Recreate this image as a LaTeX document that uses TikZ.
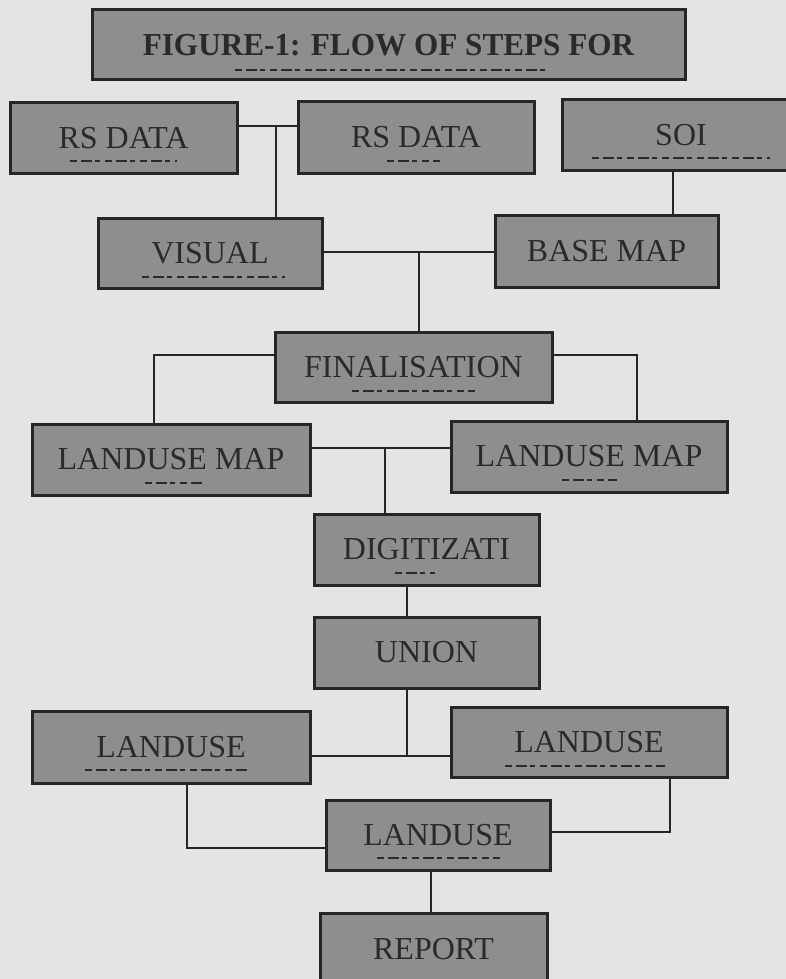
\documentclass[tikz,border=0pt]{standalone}
\usepackage{fontspec}
\setmainfont{Liberation Serif}
\begin{document}
\begin{tikzpicture}[x=1pt,y=-1pt,
  stepbox/.style={draw=boxline,fill=boxfill,line width=3pt,inner sep=0pt,
    text=ink,font=\fontsize{32}{34}\selectfont},
  link/.style={draw=boxline,line width=2.6pt},
  cut/.style={draw=ink,line width=2.6pt,dash pattern=on 7pt off 4pt on 11pt off 3pt on 5pt off 5pt}]
\definecolor{paper}{HTML}{E4E4E2}
\definecolor{boxfill}{HTML}{8E8E8C}
\definecolor{boxline}{HTML}{262626}
\definecolor{ink}{HTML}{2A2A2A}
\useasboundingbox (0,0) rectangle (786,979);
\fill[paper] (0,0) rectangle (786,979);

% boxes of the flow
\node[stepbox,minimum width=593pt,minimum height=70pt,font=\fontsize{32}{34}\selectfont\bfseries]
  (title) at (388.5,45) {\scalebox{0.975}[1]{FIGURE-1: FLOW OF STEPS FOR}};
\node[stepbox,minimum width=227pt,minimum height=70pt] (rs1) at (123.5,138) {RS DATA};
\node[stepbox,minimum width=236pt,minimum height=71pt] (rs2) at (416,137.5) {RS DATA};
\node[stepbox,minimum width=238pt,minimum height=70pt] (soi) at (681,135) {SOI};
\node[stepbox,minimum width=224pt,minimum height=70pt] (visual) at (210,253) {VISUAL};
\node[stepbox,minimum width=223pt,minimum height=72pt] (base) at (606.5,251) {BASE MAP};
\node[stepbox,minimum width=277pt,minimum height=70pt] (final) at (413.5,367) {FINALISATION};
\node[stepbox,minimum width=278pt,minimum height=71pt] (lm1) at (171,459.5) {LANDUSE MAP};
\node[stepbox,minimum width=276pt,minimum height=71pt] (lm2) at (589,456.5) {LANDUSE MAP};
\node[stepbox,minimum width=225pt,minimum height=71pt] (digit) at (426.5,549.5) {DIGITIZATI};
\node[stepbox,minimum width=225pt,minimum height=71pt] (union) at (426.5,652.5) {UNION};
\node[stepbox,minimum width=278pt,minimum height=72pt] (lu1) at (171,747) {LANDUSE};
\node[stepbox,minimum width=276pt,minimum height=70pt] (lu2) at (589,742) {LANDUSE};
\node[stepbox,minimum width=224pt,minimum height=70pt] (lu3) at (438,835) {LANDUSE};
\node[stepbox,minimum width=227pt,minimum height=72pt] (report) at (433.5,949) {REPORT};

% clipped second lines of the box labels
\draw[cut] (235,70) -- (545,70);
\draw[cut] (70,161) -- (177,161);
\draw[cut] (387,161) -- (440,161);
\draw[cut] (592,158) -- (770,158);
\draw[cut] (142,277) -- (285,277);
\draw[cut] (352,391) -- (475,391);
\draw[cut] (145,483) -- (202,483);
\draw[cut] (562,480) -- (617,480);
\draw[cut] (395,573) -- (435,573);
\draw[cut] (85,770) -- (250,770);
\draw[cut] (505,766) -- (665,766);
\draw[cut] (377,858) -- (500,858);

% junction points of the connectors
\coordinate (j1) at (276,126);
\coordinate (j2) at (419,252);
\coordinate (j3) at (673,0);
\coordinate (j4) at (154,355);
\coordinate (j5) at (637,355);
\coordinate (j6) at (385,448);
\coordinate (j7) at (407,0);
\coordinate (j8) at (407,756);
\coordinate (j9) at (187,848);
\coordinate (j10) at (670,832);
\coordinate (j11) at (431,0);

% connectors
\draw[link] (rs1.east |- j1) -- (rs2.west |- j1);
\draw[link] (j1) -- (visual.north -| j1);
\draw[link] (soi.south -| j3) -- (base.north -| j3);
\draw[link] (visual.east |- j2) -- (base.west |- j2);
\draw[link] (j2) -- (final.north -| j2);
\draw[link] (final.west |- j4) -- (j4) -- (lm1.north -| j4);
\draw[link] (final.east |- j5) -- (j5) -- (lm2.north -| j5);
\draw[link] (lm1.east |- j6) -- (lm2.west |- j6);
\draw[link] (j6) -- (digit.north -| j6);
\draw[link] (digit.south -| j7) -- (union.north -| j7);
\draw[link] (union.south -| j8) -- (j8);
\draw[link] (lu1.east |- j8) -- (lu2.west |- j8);
\draw[link] (lu1.south -| j9) -- (j9) -- (lu3.west |- j9);
\draw[link] (lu2.south -| j10) -- (j10) -- (lu3.east |- j10);
\draw[link] (lu3.south -| j11) -- (report.north -| j11);
\end{tikzpicture}
\end{document}
